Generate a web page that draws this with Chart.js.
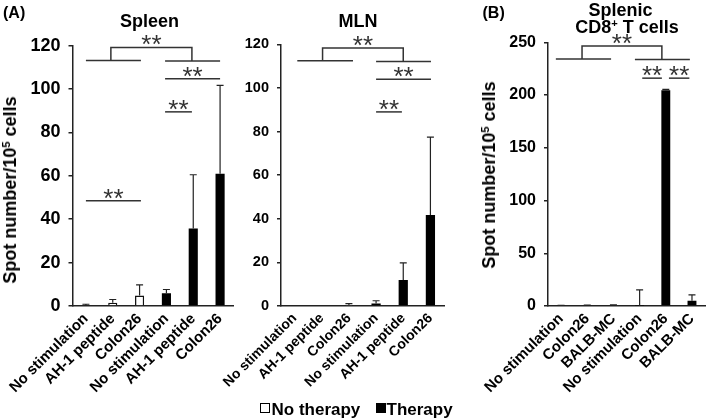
<!DOCTYPE html>
<html><head><meta charset="utf-8">
<script src="https://cdn.jsdelivr.net/npm/chart.js@4/dist/chart.umd.min.js"></script>
<style>
body{margin:0;background:#fff;}
#wrap{position:relative;width:709px;height:420px;overflow:hidden;font-family:"Liberation Sans",Arial,sans-serif;font-weight:bold;color:#000;}
canvas{position:absolute;left:0;top:0;}
.t{position:absolute;white-space:nowrap;line-height:1;}
.c{transform:translateX(-50%);}
.sup{font-size:0.62em;position:relative;top:-0.55em;}
.yt{position:absolute;white-space:nowrap;line-height:1;font-size:18px;transform:translate(-50%,-50%) rotate(-90deg);}
.box{position:absolute;width:8px;height:8px;border:1.5px solid #000;}
</style></head>
<body><div id="wrap">
<canvas id="c1" width="709" height="420"></canvas>
<canvas id="c2" width="709" height="420"></canvas>
<canvas id="c3" width="709" height="420"></canvas>
<div class="t" style="left:3px;top:5px;font-size:16px;">(A)</div>
<div class="t c" style="left:149.5px;top:12px;font-size:18px;">Spleen</div>
<div class="t c" style="left:358px;top:11.5px;font-size:18px;">MLN</div>
<div class="t" style="left:482.5px;top:5px;font-size:16px;">(B)</div>
<div class="t c" style="left:620.5px;top:1px;font-size:18px;">Splenic</div>
<div class="t c" style="left:627px;top:18px;font-size:18px;">CD8<span class="sup">+</span> T cells</div>
<div class="yt" style="left:9.5px;top:189.5px;">Spot number/10<span class="sup">5</span> cells</div>
<div class="yt" style="left:488.5px;top:174.5px;">Spot number/10<span class="sup">5</span> cells</div>
<div class="box" style="left:260px;top:403px;background:#fff;"></div>
<div class="t" style="left:271.5px;top:400.6px;font-size:17px;">No therapy</div>
<div class="box" style="left:375.5px;top:403px;background:#000;"></div>
<div class="t" style="left:386.5px;top:400.6px;font-size:17px;">Therapy</div>
</div>
<script>
// ---------- data ----------
const spleenCategories = ['No stimulation','AH-1 peptide','Colon26','No stimulation','AH-1 peptide','Colon26'];
const spleenNoTherapy   = [0.4, 1.5, 4.8, null, null, null];
const spleenNoTherapySD = [0.4, 1.5, 4.9, null, null, null];
const spleenTherapy     = [null, null, null, 5.9, 35.7, 61];
const spleenTherapySD   = [null, null, null, 1.7, 24.8, 40.7];

const mlnCategories = ['No stimulation','AH-1 peptide','Colon26','No stimulation','AH-1 peptide','Colon26'];
const mlnNoTherapy   = [0, 0, 0.5, null, null, null];
const mlnNoTherapySD = [0, 0, 0.6, null, null, null];
const mlnTherapy     = [null, null, null, 1.2, 11.9, 41.7];
const mlnTherapySD   = [null, null, null, 1.2, 7.9, 35.7];

const cd8Categories = ['No stimulation','Colon26','BALB-MC','No stimulation','Colon26','BALB-MC'];
const cd8NoTherapy   = [0.4, 0.5, 0.8, null, null, null];
const cd8NoTherapySD = [0.3, 0.3, 0.4, null, null, null];
const cd8Therapy     = [null, null, null, 0.2, 204.5, 5];
const cd8TherapySD   = [null, null, null, 15, 0.8, 5.5];

// y axis ticks: [max, step]
const spleenYTicks = [120, 20];
const mlnYTicks = [120, 20];
const cd8YTicks = [250, 50];

// significance lines: [fromCategory, toCategory, value, label]
const spleenSigLines = [[0,2.05,113.2,''],[2.95,5,112.9,''],[2.95,5,104.8,'**'],[2.95,3.95,89.5,'**'],[0,2.05,48.5,'**']];
const spleenSigBracket = [0.93, 3.95, 119.2, 113.2, 112.9, '**'];
const mlnSigLines = [[0.1,2.15,112.5,''],[3,5.02,112.1,''],[3,5.02,104,'**'],[3,3.95,89,'**']];
const mlnSigBracket = [1.03, 4, 118.3, 112.5, 112.1, '**'];
const cd8SigLines = [[-0.2,1.91,234.2,''],[2.82,4.92,233.6,''],[3.1,3.85,216,'**'],[4.12,4.9,216,'**']];
const cd8SigBracket = [0.8, 3.85, 246.5, 234.2, 233.6, '**'];

// ---------- plugins ----------
const FONT = '"Liberation Sans", Arial, sans-serif';
const errPlugin = {id:'err', afterDatasetsDraw(chart){
  const ctx = chart.ctx, ys = chart.scales.y;
  chart.data.datasets.forEach((ds, di) => {
    const meta = chart.getDatasetMeta(di);
    ds.data.forEach((v, i) => {
      const sd = ds.sd[i];
      if (v == null || sd == null || sd <= 0) return;
      const el = meta.data[i];
      const x = el.x, y0 = el.y, y1 = ys.getPixelForValue(v + sd);
      ctx.save();
      ctx.strokeStyle = '#222'; ctx.lineWidth = 1.2;
      ctx.beginPath();
      ctx.moveTo(x, y0); ctx.lineTo(x, y1);
      ctx.moveTo(x - 3.5, y1); ctx.lineTo(x + 3.5, y1);
      ctx.stroke(); ctx.restore();
    });
  });
}};
const sigPlugin = {id:'sig', afterDraw(chart, args, opts){
  const ctx = chart.ctx, xs = chart.scales.x, ys = chart.scales.y;
  ctx.save();
  ctx.strokeStyle = '#333'; ctx.lineWidth = 1.5; ctx.fillStyle = '#333';
  ctx.font = 'normal 26px ' + FONT; ctx.textAlign = 'center'; ctx.textBaseline = 'alphabetic';
  const star = (lbl, x, y) => { if (lbl) ctx.fillText(lbl, x, y + 6); };
  opts.lines.forEach(([a, b, v, lbl]) => {
    const x1 = xs.getPixelForValue(a), x2 = xs.getPixelForValue(b), y = ys.getPixelForValue(v);
    ctx.beginPath(); ctx.moveTo(x1, y); ctx.lineTo(x2, y); ctx.stroke();
    star(lbl, (x1 + x2) / 2, y);
  });
  const [a, b, top, lb, rb, lbl] = opts.bracket;
  const x1 = xs.getPixelForValue(a), x2 = xs.getPixelForValue(b), yt = ys.getPixelForValue(top);
  ctx.beginPath();
  ctx.moveTo(x1, ys.getPixelForValue(lb)); ctx.lineTo(x1, yt); ctx.lineTo(x2, yt); ctx.lineTo(x2, ys.getPixelForValue(rb));
  ctx.stroke();
  star(lbl, (x1 + x2) / 2, yt);
  ctx.restore();
}};

function panel(id, cats, nt, ntSD, th, thSD, yTicks, area, tickFont, xFont, lines, bracket){
  const yW = 50, xH = 100;
  return new Chart(document.getElementById(id), {
    type: 'bar',
    data: {labels: cats, datasets: [
      {label:'No therapy', data: nt, sd: ntSD, backgroundColor:'#fff', borderColor:'#111', borderWidth:1.5, grouped:false, barPercentage:0.34, categoryPercentage:1},
      {label:'Therapy', data: th, sd: thSD, backgroundColor:'#000', borderColor:'#000', borderWidth:0, grouped:false, barPercentage:0.34, categoryPercentage:1}
    ]},
    options: {
      responsive:false, animation:false, events:[],
      layout:{autoPadding:false, padding:{left: area[0] - yW, right: 709 - area[1], top: area[2], bottom: 420 - area[3] - xH}},
      plugins:{legend:{display:false}, tooltip:{enabled:false}, sig:{lines: lines, bracket: bracket}},
      scales:{
        x:{grid:{display:false, drawTicks:false}, border:{display:true, color:'#222', width:1.5},
           ticks:{autoSkip:false, maxRotation:45, minRotation:45, color:'#000', padding:4, font:{family:FONT, size:xFont, weight:'bold'}},
           afterFit(s){ s.height = xH; }},
        y:{min:0, max:yTicks[0], ticks:{stepSize:yTicks[1], color:'#000', padding:8, font:{family:FONT, size:tickFont, weight:'bold'}},
           grid:{drawOnChartArea:false, drawTicks:true, tickLength:4, color:'#222', lineWidth:1.5},
           border:{color:'#222', width:1.5},
           afterFit(s){ s.width = yW; }}
      }
    },
    plugins:[errPlugin, sigPlugin]
  });
}

panel('c1', spleenCategories, spleenNoTherapy, spleenNoTherapySD, spleenTherapy, spleenTherapySD, spleenYTicks, [72.5, 233.5, 45.7, 306], 18, 15, spleenSigLines, spleenSigBracket);
panel('c2', mlnCategories, mlnNoTherapy, mlnNoTherapySD, mlnTherapy, mlnTherapySD, mlnYTicks, [281, 444, 44.3, 306], 14.5, 14, mlnSigLines, mlnSigBracket);
panel('c3', cd8Categories, cd8NoTherapy, cd8NoTherapySD, cd8Therapy, cd8TherapySD, cd8YTicks, [548, 705.5, 42.3, 306], 16, 15, cd8SigLines, cd8SigBracket);
</script>
</body></html>
